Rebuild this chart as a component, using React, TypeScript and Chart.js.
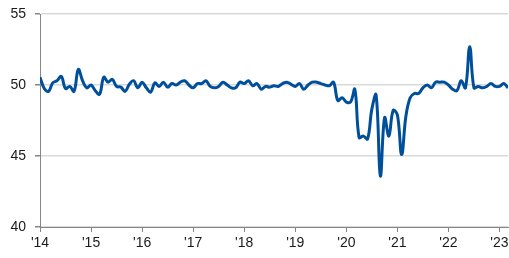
import React, { useEffect, useRef } from "react";
import { Chart, registerables } from "chart.js";

Chart.register(...registerables);

const yearLabels = ["'14", "'15", "'16", "'17", "'18", "'19", "'20", "'21", "'22", "'23"];

const values2014 = [50.55, 49.75, 49.55, 50.15, 50.3, 50.6, 49.75, 49.9, 49.55, 51.1, 50.3, 49.8];
const values2015 = [50.0, 49.6, 49.35, 50.55, 50.2, 50.4, 49.9, 49.85, 49.55, 50.05, 50.3, 49.8];
const values2016 = [50.2, 49.8, 49.5, 50.15, 49.9, 50.2, 49.85, 50.1, 50.0, 50.2, 50.3, 50.0];
const values2017 = [49.8, 50.1, 50.1, 50.3, 49.9, 49.8, 49.9, 50.2, 50.0, 49.8, 49.8, 50.2];
const values2018 = [50.1, 50.3, 49.95, 50.1, 49.7, 49.9, 49.85, 49.95, 49.9, 50.1, 50.2, 50.05];
const values2019 = [49.9, 50.1, 49.7, 50.0, 50.2, 50.2, 50.1, 50.0, 49.95, 50.2, 48.9, 49.1];
const values2020 = [48.8, 48.8, 49.7, 46.3, 46.4, 46.2, 48.3, 49.3, 43.6, 47.7, 46.4, 48.2];
const values2021 = [47.9, 45.1, 47.8, 49.1, 49.4, 49.4, 49.8, 50.0, 49.8, 50.2, 50.2, 50.2];
const values2022 = [50.0, 49.7, 49.6, 50.3, 49.8, 52.7, 49.8, 49.9, 49.8, 49.9, 50.1, 49.9];
const values2023 = [49.9, 50.1, 49.8];

const series = [
  ...values2014, ...values2015, ...values2016, ...values2017, ...values2018,
  ...values2019, ...values2020, ...values2021, ...values2022, ...values2023,
];

const yTicks = [40, 45, 50, 55];

export default function App() {
  const canvasRef = useRef<HTMLCanvasElement | null>(null);

  useEffect(() => {
    document.body.style.margin = "0";
    const canvas = canvasRef.current;
    if (!canvas) return;
    const points = series.map((v, i) => ({ x: i, y: v }));
    const chart = new Chart(canvas, {
      type: "line",
      data: {
        datasets: [
          {
            data: points,
            borderColor: "#004f9b",
            borderWidth: 3,
            pointRadius: 0,
            tension: 0.4,
            fill: false,
          },
        ],
      },
      options: {
        animation: false,
        responsive: false,
        maintainAspectRatio: false,
        layout: { padding: { top: 14, right: 1, left: 0, bottom: 0 } },
        plugins: { legend: { display: false }, tooltip: { enabled: false } },
        scales: {
          x: {
            type: "linear",
            min: 0,
            max: series.length - 1,
            afterBuildTicks: (scale: any) => {
              scale.ticks = yearLabels.map((_, i) => ({ value: i * 12 }));
            },
            afterFit: (scale: any) => {
              scale.height = 31;
              scale.paddingLeft = 0;
              scale.paddingRight = 0;
            },
            ticks: {
              autoSkip: false,
              maxRotation: 0,
              color: "#1a1a1a",
              font: { family: "'Liberation Sans', Arial, sans-serif", size: 14 },
              padding: 3,
              callback: (v: any) => {
                const idx = Math.round(Number(v) / 12);
                return yearLabels[idx] ?? "";
              },
            },
            grid: {
              drawOnChartArea: false,
              drawTicks: true,
              tickLength: 5,
              tickColor: "#868686",
            },
            border: { color: "#868686", width: 1 },
          },
          y: {
            min: 40,
            max: 55,
            afterBuildTicks: (scale: any) => {
              scale.ticks = yTicks.map((v) => ({ value: v }));
            },
            afterFit: (scale: any) => {
              scale.width = 40;
              scale.paddingTop = 0;
              scale.paddingBottom = 0;
            },
            ticks: {
              color: "#1a1a1a",
              font: { family: "'Liberation Sans', Arial, sans-serif", size: 14 },
              padding: 9,
            },
            grid: {
              color: "#d9d9d9",
              lineWidth: 1.5,
              drawTicks: true,
              tickLength: 5,
              tickColor: "#868686",
            },
            border: { color: "#868686", width: 1 },
          },
        },
      },
    });
    return () => chart.destroy();
  }, []);

  return (
    <div style={{ width: 509, height: 258, position: "relative" }}>
      <canvas ref={canvasRef} width={509} height={258} style={{ display: "block" }} />
    </div>
  );
}
